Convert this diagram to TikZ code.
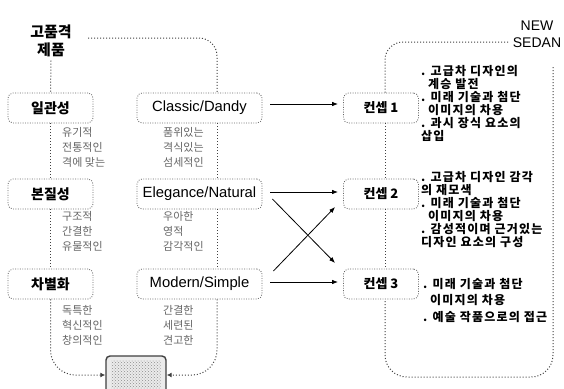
\documentclass[tikz,border=0pt]{standalone}
\usepackage{fontspec}
\setmainfont{Liberation Sans}
\newfontfamily\kr{Noto Sans CJK KR}
\newfontfamily\krw[LetterSpace=10]{Noto Sans CJK KR}
\usetikzlibrary{calc,arrows.meta,patterns}
\begin{document}
\begin{tikzpicture}[x=1pt,y=-1pt,
  box/.style={draw=black!60, dash pattern=on 0.9pt off 1.5pt, line width=0.8pt, rounded corners=5pt, minimum height=30pt, inner sep=0pt},
  krbox/.style={box, minimum width=85pt, font=\kr\bfseries\fontsize{14}{16}\selectfont},
  enbox/.style={box, minimum width=125pt, font=\fontsize{14.8}{17}\selectfont},
  kbox/.style={box, minimum width=75pt, font=\kr\bfseries\fontsize{13}{15}\selectfont},
  sub/.style={font=\kr\fontsize{11}{15}\selectfont, text=black!60, align=left, anchor=north west, inner sep=0pt},
  desc/.style={font=\krw\bfseries\fontsize{12}{13}\selectfont, align=left, anchor=north west, inner sep=0pt},
  link/.style={draw=black!75, line width=1pt, dash pattern=on 1pt off 2pt},
  linkarr/.style={link, -{Latex[length=5pt,width=5pt]}},
  arr/.style={draw=black, line width=0.8pt, -{Latex[length=6pt,width=4.5pt]}}
]
\useasboundingbox (0,0) rectangle (564,388);
\fill[white] (0,0) rectangle (564,388);

% titles
\node[font=\kr\bfseries\fontsize{15}{18}\selectfont, align=center] (title) at (51,41) {고품격\\제품};
\node[font=\fontsize{14}{17}\selectfont, align=center] (ns) at (537,34) {NEW\\SEDAN};

% boxes
\node[krbox] (il) at (50.5,108) {일관성};
\node[krbox] (bj) at (50.5,194) {본질성};
\node[krbox] (ch) at (50.5,284) {차별화};
\node[enbox] (cd) at (199.5,108) {Classic/Dandy};
\node[enbox] (en) at (199.5,194) {Elegance/Natural};
\node[enbox] (ms) at (199.5,284) {Modern/Simple};
\node[kbox] (k1) at (381,108) {컨셉 1};
\node[kbox] (k2) at (381,194) {컨셉 2};
\node[kbox] (k3) at (381,284) {컨셉 3};

% sub texts
\node[sub] (s1) at (62,127) {유기적\\전통적인\\격에 맞는};
\node[sub] (s2) at (62,211) {구조적\\간결한\\유물적인};
\node[sub] (s3) at (62,305) {독특한\\혁신적인\\창의적인};
\node[sub] (m1) at (163,127) {품위있는\\격식있는\\섬세적인};
\node[sub] (m2) at (163,211) {우아한\\영적\\감각적인};
\node[sub] (m3) at (163,305) {간결한\\세련된\\견고한};

% descriptions
\node[desc] (d1) at (421,65) {. 고급차 디자인의\\\hspace{7pt}계승 발전\\. 미래 기술과 첨단\\\hspace{7pt}이미지의 차용\\. 과시 장식 요소의\\삽입};
\node[desc] (d2) at (421,171) {. 고급차 디자인 감각\\의 재모색\\. 미래 기술과 첨단\\\hspace{7pt}이미지의 차용\\. 감성적이며 근거있는\\디자인 요소의 구성};
\node[desc, font=\krw\bfseries\fontsize{12}{16.5}\selectfont] (d3) at (423,278) {. 미래 기술과 첨단\\\hspace{7pt}이미지의 차용\\. 예술 작품으로의 접근};

% icon
\node[draw=black!75, line width=1.4pt, rounded corners=4pt, fill=black!8, minimum width=60pt, minimum height=38pt, inner sep=0pt] (icon) at (136,375) {};
\fill[pattern=crosshatch dots, pattern color=black!45] ([shift={(6,5)}]icon.north west) rectangle ([shift={(-6,-2)}]icon.south east);

% coordinates
\coordinate (tl) at (88,38);
\coordinate (mx) at (217,0);
\coordinate (rx) at (385,0);
\coordinate (tr) at (508,42);
\coordinate (rs) at (553,67);
\coordinate (fb) at (385,377);

% dotted links
\draw[link] (title.south) -- (il.north);
\draw[link] (il.south) -- (bj.north);
\draw[link] (bj.south) -- (ch.north);
\draw[linkarr, rounded corners=25pt] (ch.south) |- (icon.west);
\draw[link, rounded corners=18pt] (tl) -| (cd.north -| mx);
\draw[link] (cd.south -| mx) -- (en.north -| mx);
\draw[link] (en.south -| mx) -- (ms.north -| mx);
\draw[linkarr, rounded corners=25pt] (ms.south -| mx) |- (icon.east);
\draw[link, rounded corners=18pt] (k1.north -| rx) |- (tr);
\draw[link] (k1.south -| rx) -- (k2.north -| rx);
\draw[link] (k2.south -| rx) -- (k3.north -| rx);
\draw[link, rounded corners=22pt] (rs) |- (fb) -- (k3.south -| rx);

% arrows
\draw[arr, shorten <=8pt, shorten >=5pt] ([yshift=4pt]cd.east) -- ([yshift=4pt]k1.west);
\draw[arr, shorten <=8pt, shorten >=5pt] ([yshift=2pt]en.east) -- ([yshift=2pt]k2.west);
\draw[arr, shorten <=8pt, shorten >=5pt] ([yshift=2pt]ms.east) -- ([yshift=2pt]k3.west);
\draw[arr] ($(en.east)+(10,5)$) -- ($(k3.west)+(-8,-21)$);
\draw[arr] ($(ms.east)+(11,-13)$) -- ($(k2.west)+(-8,13)$);
\end{tikzpicture}
\end{document}
